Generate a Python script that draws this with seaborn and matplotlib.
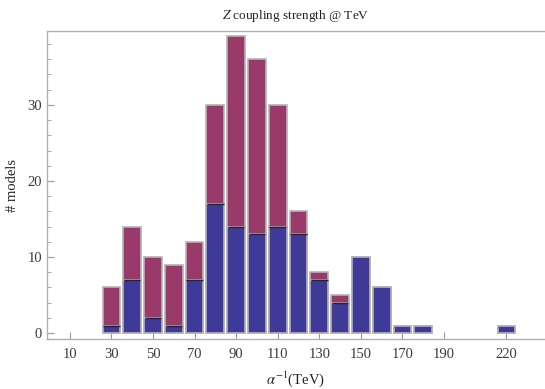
import matplotlib
matplotlib.use("Agg")
import matplotlib.pyplot as plt
import seaborn as sns
from matplotlib.ticker import MultipleLocator

# Histogram data (bin centres in TeV)
centers = [30, 40, 50, 60, 70, 80, 90, 100, 110, 120, 130, 140, 150, 160, 170, 180, 220]
totals = [6, 14, 10, 9, 12, 30, 39, 36, 30, 16, 8, 5, 10, 6, 1, 1, 1]
blue_counts = [1, 7, 2, 1, 7, 17, 14, 13, 14, 13, 7, 4, 10, 6, 1, 1, 1]
xtick_vals = [10, 30, 50, 70, 90, 110, 130, 150, 170, 190, 220]

sns.set_style("white")
plt.rcParams["font.family"] = ["Liberation Serif", "DejaVu Serif"]
plt.rcParams["mathtext.fontset"] = "stix"

fig = plt.figure(figsize=(5.45, 3.89), dpi=100)
ax = fig.add_axes([0.086, 0.128, 0.912, 0.792])

sns.barplot(x=centers, y=totals, native_scale=True, width=0.85,
            color="#9A3A6B", saturation=1, edgecolor="#b4b4b4",
            linewidth=1.2, ax=ax)
sns.barplot(x=centers, y=blue_counts, native_scale=True, width=0.85,
            color="#3F3A98", saturation=1, edgecolor="#b4b4b4",
            linewidth=1.2, ax=ax)
# dark line on top of the blue part where the magenta part continues
for i, p in enumerate(ax.patches[len(centers):]):
    x0, y0 = p.get_x(), p.get_y() + p.get_height()
    if blue_counts[i] < totals[i]:
        ax.plot([x0 + 0.3, x0 + p.get_width() - 0.3], [y0, y0],
                color="#2a2030", lw=1.0, solid_capstyle="butt")

ax.set_xlim(-1, 238)
ax.set_ylim(-0.8, 39.7)
ax.set_xticks(xtick_vals)
ax.set_xticklabels([str(v) for v in xtick_vals])
ax.yaxis.set_major_locator(MultipleLocator(10))
ax.yaxis.set_minor_locator(MultipleLocator(2))

for s in ax.spines.values():
    s.set_color("#b0b0b0")
    s.set_linewidth(1.0)
ax.spines["right"].set_visible(False)
ax.tick_params(axis="both", which="both", direction="in", colors="#999999",
               labelcolor="#3a3a3a", labelsize=10.5)
ax.tick_params(axis="y", which="major", length=5, left=True)
ax.tick_params(axis="y", which="minor", length=3, left=True)
ax.tick_params(axis="x", which="major", length=5, bottom=True)
ax.tick_params(axis="x", pad=6)

ax.set_title(r"$Z$ coupling strength @ TeV", fontsize=9.5, color="#222222", pad=9)
ax.set_xlabel(r"$\alpha^{-1}$(TeV)", fontsize=10.5, color="#222222", labelpad=6)
ax.set_ylabel("# models", fontsize=10.5, color="#222222", labelpad=6)

fig.savefig("out.png", dpi=100)
